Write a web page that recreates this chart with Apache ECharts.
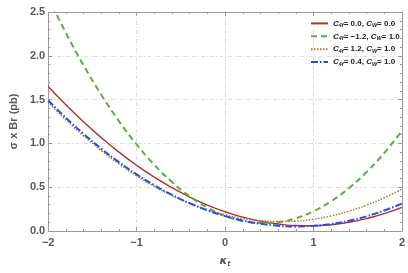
<!DOCTYPE html>
<html>
<head>
<meta charset="utf-8">
<script src="https://cdn.jsdelivr.net/npm/echarts@6/dist/echarts.min.js"></script>
<style>html,body{margin:0;padding:0;background:#fff;}#c{width:408px;height:273px;}</style>
</head>
<body>
<div id="c"></div>
<script>
const kappa = [-2,-1.8,-1.6,-1.4,-1.2,-1,-0.8,-0.6,-0.4,-0.2,0,0.2,0.4,0.6,0.8,1,1.2,1.4,1.6,1.8,2];
const sigRed =    [1.650,1.440,1.246,1.066,0.900,0.750,0.614,0.494,0.388,0.296,0.220,0.158,0.112,0.080,0.062,0.060,0.072,0.100,0.142,0.198,0.270];
const sigGreen =  [2.668,2.263,1.892,1.556,1.255,0.988,0.756,0.558,0.396,0.267,0.174,0.115,0.091,0.101,0.146,0.226,0.340,0.489,0.673,0.891,1.144];
const sigOrange = [1.470,1.270,1.087,0.919,0.766,0.630,0.509,0.405,0.316,0.242,0.185,0.143,0.118,0.108,0.113,0.135,0.172,0.226,0.295,0.379,0.480];
const sigBlue =   [1.490,1.292,1.109,0.940,0.786,0.647,0.522,0.412,0.317,0.236,0.170,0.119,0.082,0.060,0.052,0.059,0.081,0.117,0.168,0.234,0.314];
const legendC4f = ['0.0','\u22121.2','1.2','0.4'];
const legendCW = ['0.0','1.0','1.0','1.0'];
const names = ['s0','s1','s2','s3'];

const chart = echarts.init(document.getElementById('c'), null, {renderer:'canvas'});
const pair = a => kappa.map((k,i)=>[k,a[i]]);
const axisGrey = '#9a9a9a';
const LF = 'Liberation Sans, Arial, sans-serif';
const labelStyle = {color:'#5a5a5a', fontFamily:LF, fontWeight:'bold', fontSize:11};
const gridLine = {show:true, lineStyle:{color:'#dcdcdc', width:1, type:[4,2,1,2]}};
const fmtX = v => (v<0?'\u2212':'') + Math.abs(v);
const fmtY = v => v.toFixed(1);

chart.setOption({
  animation:false,
  backgroundColor:'#fff',
  grid:{left:32, right:6, top:12, bottom:31, containLabel:false},
  legend:{
    orient:'vertical', left:305, top:14, itemWidth:17, itemHeight:11, itemGap:3,
    data:names,
    itemStyle:{opacity:0},
    formatter: function(n){
      const i = names.indexOf(n);
      return '{c|C}{s|4f}{n|= '+legendC4f[i]+', }{c|C}{s|W}{n|= '+legendCW[i]+'}';
    },
    textStyle:{
      fontFamily:LF, color:'#222', fontWeight:'bold', fontSize:8,
      rich:{
        c:{fontFamily:LF, fontSize:8, fontWeight:'bold', fontStyle:'italic', color:'#222', lineHeight:11, verticalAlign:'middle'},
        s:{fontFamily:LF, fontSize:5.5, fontWeight:'bold', fontStyle:'italic', color:'#222', lineHeight:11, verticalAlign:'bottom'},
        n:{fontFamily:LF, fontSize:8, fontWeight:'bold', color:'#222', lineHeight:11, verticalAlign:'middle'}
      }
    }
  },
  xAxis:[{
    type:'value', min:-2, max:2, interval:1, position:'bottom',
    axisLine:{show:true, onZero:false, lineStyle:{color:axisGrey}},
    axisTick:{show:true, inside:true, length:4, lineStyle:{color:axisGrey}},
    minorTick:{show:true, splitNumber:5, length:2, lineStyle:{color:axisGrey}},
    axisLabel:{...labelStyle, margin:6, formatter:fmtX},
    splitLine:gridLine,
    name:'{k|\u03ba}{t|t}', nameLocation:'middle', nameGap:23,
    nameTextStyle:{rich:{
      k:{fontSize:11, fontStyle:'italic', fontWeight:'bold', color:'#5a5a5a', fontFamily:'DejaVu Sans', lineHeight:14, verticalAlign:'middle'},
      t:{fontSize:7, fontStyle:'italic', fontWeight:'bold', color:'#5a5a5a', fontFamily:'DejaVu Sans', lineHeight:14, verticalAlign:'bottom'}
    }}
  },{
    type:'value', min:-2, max:2, interval:1, position:'top',
    axisLine:{show:true, onZero:false, lineStyle:{color:axisGrey}},
    axisTick:{show:true, inside:true, length:4, lineStyle:{color:axisGrey}},
    minorTick:{show:true, splitNumber:5, length:2, lineStyle:{color:axisGrey}},
    axisLabel:{show:false}, splitLine:{show:false}
  }],
  yAxis:[{
    type:'value', min:0, max:2.5, interval:0.5, position:'left',
    axisLine:{show:true, onZero:false, lineStyle:{color:axisGrey}},
    axisTick:{show:true, inside:true, length:4, lineStyle:{color:axisGrey}},
    minorTick:{show:true, splitNumber:5, length:2, lineStyle:{color:axisGrey}},
    axisLabel:{...labelStyle, margin:3, formatter:fmtY},
    splitLine:gridLine,
    name:'\u03c3 x Br (pb)', nameLocation:'middle', nameGap:25,
    nameTextStyle:{...labelStyle, fontSize:11}
  },{
    type:'value', min:0, max:2.5, interval:0.5, position:'right',
    axisLine:{show:true, onZero:false, lineStyle:{color:axisGrey}},
    axisTick:{show:true, inside:true, length:4, lineStyle:{color:axisGrey}},
    minorTick:{show:true, splitNumber:5, length:2, lineStyle:{color:axisGrey}},
    axisLabel:{show:false}, splitLine:{show:false}
  }],
  series:[
    {name:'s0', type:'line', data:pair(sigRed), smooth:true, symbol:'none', clip:true,
     lineStyle:{color:'#b0302a', width:1.4, type:'solid'}, itemStyle:{color:'#b0302a'}},
    {name:'s1', type:'line', data:pair(sigGreen), smooth:true, symbol:'none', clip:true,
     lineStyle:{color:'#5aae3a', width:2, type:[6,4]}, itemStyle:{color:'#5aae3a'}},
    {name:'s2', type:'line', data:pair(sigOrange), smooth:true, symbol:'none', clip:true,
     lineStyle:{color:'#c0763a', width:1.6, type:[1.5,1.5]}, itemStyle:{color:'#c0763a'}},
    {name:'s3', type:'line', data:pair(sigBlue), smooth:true, symbol:'none', clip:true,
     lineStyle:{color:'#1f4fef', width:2, type:[7,2,1.5,2]}, itemStyle:{color:'#1f4fef'}}
  ]
});
</script>
</body>
</html>
